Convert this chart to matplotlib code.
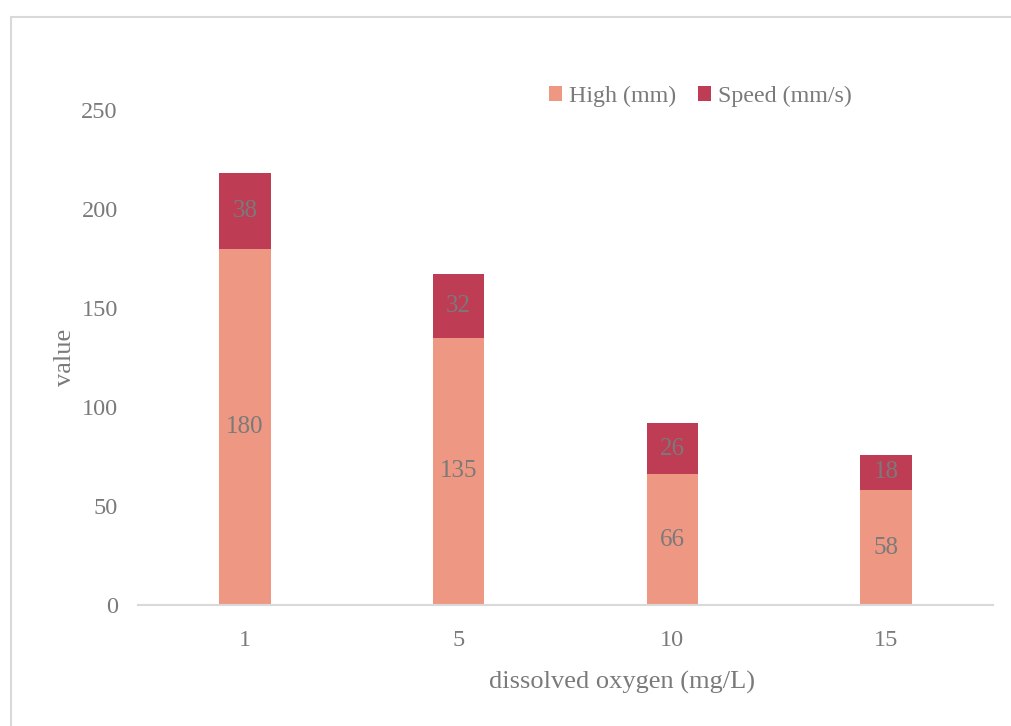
import numpy as np
import matplotlib.pyplot as plt
from matplotlib.patches import Rectangle

plt.rcParams['font.family'] = ['Liberation Serif', 'DejaVu Serif']

# data
categories = ['1', '5', '10', '15']
high = [180, 135, 66, 58]
speed = [38, 32, 26, 18]

c_high = '#EE9782'
c_speed = '#BE3C54'
txt = '#7a7a7a'

fig = plt.figure(figsize=(10.11, 7.26), dpi=100)
ax = fig.add_axes([138/1011, 1 - 605/726, (993 - 138)/1011, (605 - 110)/726])

x = np.arange(len(categories))
w = 0.24
b1 = ax.bar(x, high, w, color=c_high, label='High (mm)')
b2 = ax.bar(x, speed, w, bottom=high, color=c_speed, label='Speed (mm/s)')
ax.bar_label(b1, label_type='center', color=txt, fontsize=18)
ax.bar_label(b2, label_type='center', color=txt, fontsize=18)

ax.set_xlim(-0.5, 3.5)
ax.set_ylim(0, 250)
ax.set_yticks(range(0, 251, 50))
ax.set_xticks(x)
ax.set_xticklabels(categories)
ax.tick_params(length=0, labelsize=17.5, labelcolor=txt)
ax.tick_params(axis='y', pad=14.5)
ax.tick_params(axis='x', pad=18)
for s in ['top', 'right', 'left']:
    ax.spines[s].set_visible(False)
ax.spines['bottom'].set_color('#d9d9d9')
ax.spines['bottom'].set_linewidth(1.5)

ax.set_ylabel('value', fontsize=19, color=txt, labelpad=4)
ax.set_xlabel('dissolved oxygen (mg/L)', fontsize=19, color=txt, labelpad=14, x=0.566)

ax.legend(ncol=2, frameon=False, loc='center left', bbox_to_anchor=(0.455, 1.027),
          handlelength=0.55, handleheight=0.55, handletextpad=0.3, columnspacing=0.9,
          fontsize=17.3, labelcolor=txt)

# outer chart border
fig.patches.append(Rectangle((11/1011, -0.05), 1.1, 1.05 - 17/726, transform=fig.transFigure,
                             fill=False, edgecolor='#d9d9d9', linewidth=1.5))

fig.savefig('out.png', dpi=100)
